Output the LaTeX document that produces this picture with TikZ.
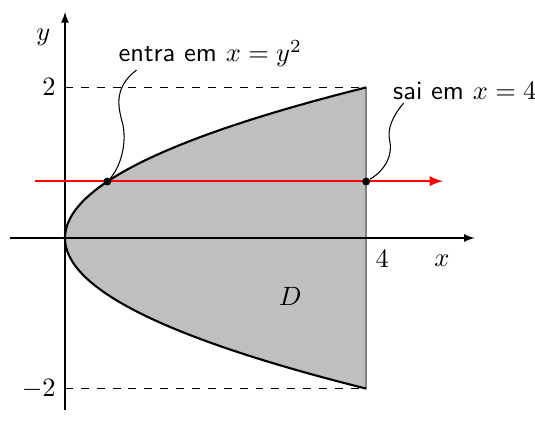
\documentclass[tikz,border=0pt]{standalone}
\usepackage{amsmath}
\usetikzlibrary{positioning}
\begin{document}
\begin{tikzpicture}[
            x=1cm, y=1cm,
            axis/.style={-latex},
            guide/.style={dashed},
            ray/.style={red, line width=0.75pt, -latex},
            region/.style={fill=gray!50},
            dot/.style={circle, fill=black, inner sep=0pt, minimum size=3pt},
            tag/.style={font=\sffamily, inner sep=1pt}
          ]
            \useasboundingbox (-0.863,-2.643) rectangle (6.242,3.161);
            % the region D
            \fill[region] (4,-2) -- plot[domain=-2:2, samples=80] ({\x*\x},\x) -- cycle;
            \draw[gray, thick] (4,-2) -- (4,2);
            \draw[thick] plot[domain=-2:2, samples=80] ({\x*\x},\x);
            % axes and guides
            \draw[axis] (-0.73,0) -- (5.44,0) node[below left=3pt and 6pt] (xlab) {$x$};
            \draw[axis] (0,-2.28) -- (0,3.0) node[below left=3pt and 2pt] (ylab) {$y$};
            \draw[guide] (0,2) node[left] (ytop) {$2$} -- (4,2);
            \draw[guide] (0,-2) node[left] (ybot) {$-2$} -- (4,-2);
            \node[below right=1pt and 0pt] (xfour) at (4,0) {$4$};
            \node (dlab) at (2.99,-0.78) {$D$};
            % horizontal ray through D
            \coordinate (raystart) at (-0.4,0.755);
            \coordinate (rayend) at (5.02,0.755);
            \draw[ray] (raystart) -- (rayend);
            \node[dot] (entra) at (0.5625,0.75) {};
            \node[dot] (sai) at (4,0.75) {};
            % labels
            \node[tag] (entralab) at (1.93,2.45) {entra em $x=y^2$};
            \node[tag] (sailab) at (5.31,1.95) {sai em $x=4$};
            \draw (entra) .. controls (0.74,0.95) and (0.82,1.25) .. (0.77,1.5)
                  .. controls (0.72,1.7) and (0.62,1.98) .. ([xshift=0.28cm]entralab.south west);
            \draw (sai) .. controls (4.25,0.9) and (4.36,1.1) .. (4.31,1.3)
                  .. controls (4.28,1.45) and (4.35,1.62) .. ([xshift=0.18cm]sailab.south west);
          \end{tikzpicture}
\end{document}
